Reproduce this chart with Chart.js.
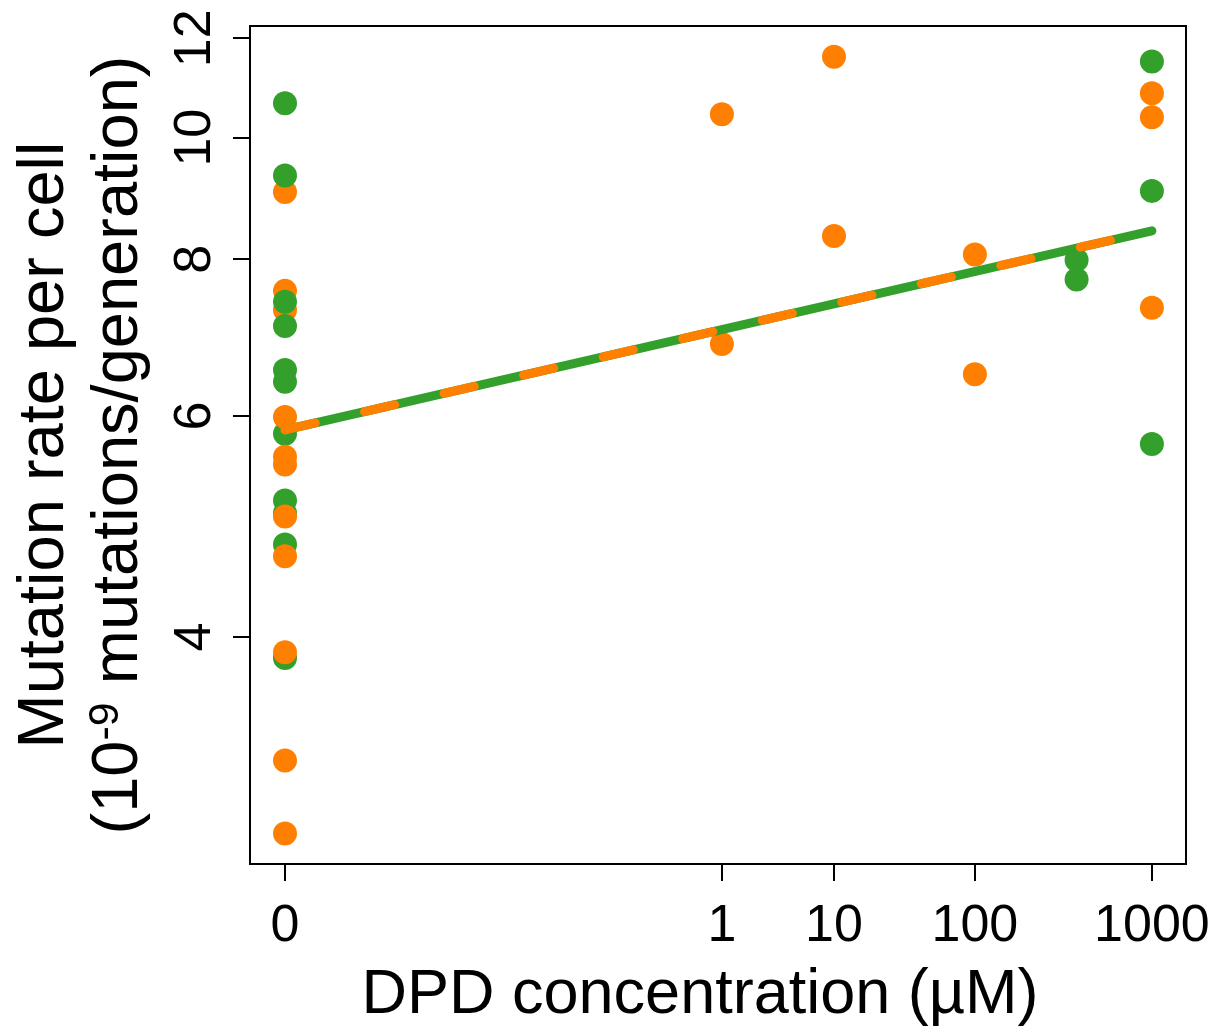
<!DOCTYPE html>
<html>
<head>
<meta charset="utf-8">
<script src="https://cdn.jsdelivr.net/npm/chart.js@4.4.1/dist/chart.umd.min.js"></script>
<style>
html,body{margin:0;padding:0;background:#fff}
#wrap{width:1231px;height:1028px}
</style>
</head>
<body>
<div id="wrap"><canvas id="ch" width="1231" height="1028"></canvas></div>
<script>
// DPD concentration (uM) and mutation rate (1e-9 / generation)
const greenConc=[0,0,0,0,0,0,0,0,0,0,0,400,400,1000,1000,1000];
const greenRate=[10.65,9.33,7.40,7.08,6.53,6.39,5.81,5.14,5.02,4.74,3.85,7.99,7.71,11.50,9.07,5.70];
const orangeConc=[0,0,0,0,0,0,0,0,0,0,0,1,1,10,10,100,100,1000,1000,1000];
const orangeRate=[9.05,7.55,7.29,5.99,5.57,5.49,4.99,4.64,3.89,3.19,2.79,10.44,6.85,11.60,8.35,8.07,6.48,10.85,10.38,7.32];
// fitted trend, same for both series
const fitConc=[0,1000];
const greenFit=[5.85,8.43];
const orangeFit=[5.85,8.43];
const xTicks=[0,1,10,100,1000];
const yTicks=[4,6,8,10,12];
const xTitle='DPD concentration (µM)';
const yTitle1='Mutation rate per cell';
const yTitle2=['(10','-9',' mutations/generation)'];

const GREEN='#33a02c', ORANGE='#ff7f00';
const FONT='"Liberation Sans", Arial, Helvetica, sans-serif';
Chart.defaults.font.family=FONT;
Chart.defaults.color='#000';

// x axis is drawn on a power scale (keeps 0 on the axis)
const tx=c=>Math.pow(c,0.0992);
const pts=(cs,vs,keep)=>cs.map((c,i)=>({x:tx(c),y:vs[i]})).filter(p=>!keep||keep(p.y));

// box round the plot, x title, two-line y title with superscript
const boxPlugin={
  id:'box',
  afterDraw(chart){
    const {ctx,chartArea:a}=chart;
    ctx.save();
    ctx.strokeStyle='#000';ctx.lineWidth=2;
    ctx.strokeRect(a.left,a.top,a.right-a.left,a.bottom-a.top);
    ctx.fillStyle='#000';ctx.textBaseline='alphabetic';ctx.textAlign='center';
    ctx.font='63px '+FONT;
    ctx.fillText(xTitle,700,1013);
    const cy=(a.top+a.bottom)/2;
    const big='65px '+FONT, small='43px '+FONT;
    ctx.translate(63,cy);ctx.rotate(-Math.PI/2);
    ctx.font=big;
    ctx.fillText(yTitle1,0,0);
    ctx.restore();
    ctx.save();
    ctx.fillStyle='#000';ctx.textBaseline='alphabetic';ctx.textAlign='left';
    ctx.translate(137,cy);ctx.rotate(-Math.PI/2);
    const parts=[[yTitle2[0],big,0],[yTitle2[1],small,-19],[yTitle2[2],big,0]];
    let w=0;
    parts.forEach(p=>{ctx.font=p[1];w+=ctx.measureText(p[0]).width;});
    let x=-w/2;
    parts.forEach(p=>{ctx.font=p[1];ctx.fillText(p[0],x,p[2]);x+=ctx.measureText(p[0]).width;});
    ctx.restore();
  }
};

const axisGrid={drawOnChartArea:false,drawTicks:true,tickLength:17,color:'#000',lineWidth:2};
const axisBorder={display:true,color:'#000',width:2};

new Chart(document.getElementById('ch'),{
  type:'scatter',
  data:{datasets:[
    {type:'line',data:pts(fitConc,orangeFit),borderColor:ORANGE,borderWidth:9,borderDash:[31,50.6],
     borderCapStyle:'round',pointRadius:0,showLine:true,fill:false},
    {type:'line',data:pts(fitConc,greenFit),borderColor:GREEN,borderWidth:9,
     borderCapStyle:'round',pointRadius:0,showLine:true,fill:false},
    {data:pts(orangeConc,orangeRate,v=>v<7),backgroundColor:ORANGE,borderWidth:0,pointRadius:12},
    {data:pts(greenConc,greenRate),backgroundColor:GREEN,borderWidth:0,pointRadius:12},
    {data:pts(orangeConc,orangeRate,v=>v>=7),backgroundColor:ORANGE,borderWidth:0,pointRadius:12}
  ]},
  options:{
    responsive:false,animation:false,devicePixelRatio:1,
    layout:{padding:{left:0,top:26,right:45,bottom:0}},
    plugins:{legend:{display:false},tooltip:{enabled:false}},
    elements:{point:{hoverRadius:12}},
    scales:{
      x:{type:'linear',min:-0.0801,max:2.0623,
        afterBuildTicks:s=>{s.ticks=xTicks.map(c=>({value:tx(c)}));},
        afterFit:s=>{s.height=164;s.paddingLeft=0;s.paddingRight=0;},
        ticks:{callback:(v,i)=>String(xTicks[i]),font:{size:52},color:'#000',padding:14,maxRotation:0,autoSkip:false},
        grid:axisGrid,border:axisBorder
      },
      y:{type:'logarithmic',min:2.638,max:12.274,
        afterBuildTicks:s=>{s.ticks=yTicks.map(v=>({value:v}));},
        afterFit:s=>{s.width=250;s.paddingTop=0;s.paddingBottom=0;},
        ticks:{callback:v=>String(v),font:{size:52},color:'#000',padding:8,minRotation:90,maxRotation:90,crossAlign:'center',autoSkip:false},
        grid:axisGrid,border:axisBorder
      }
    }
  },
  plugins:[boxPlugin]
});
</script>
</body>
</html>
